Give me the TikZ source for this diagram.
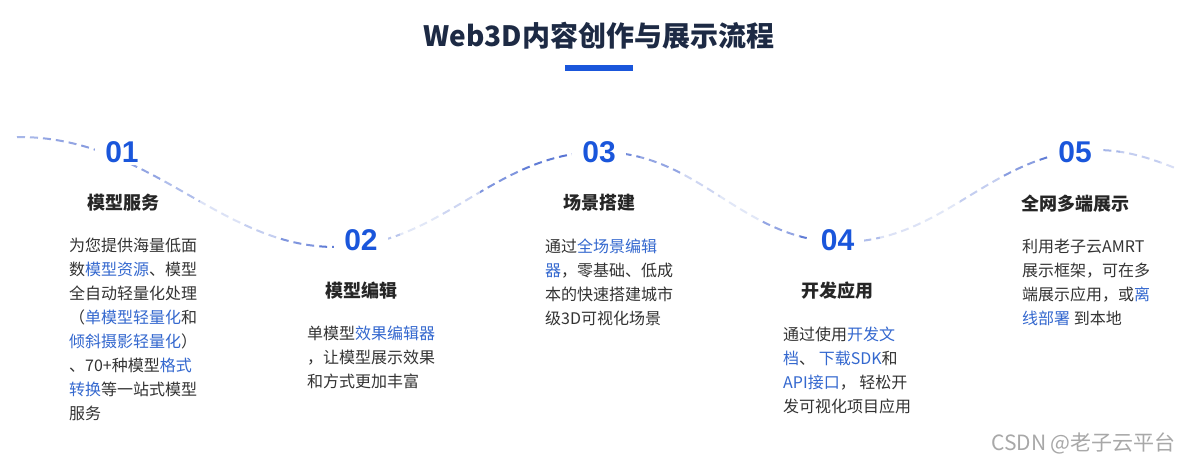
\documentclass[tikz,border=0pt]{standalone}
\usepackage{fontspec}
\setmainfont{Noto Sans CJK SC}
\newfontfamily\numfont{Liberation Sans}
\definecolor{titlecol}{HTML}{1D2A44}
\definecolor{numblue}{HTML}{1A56DB}
\definecolor{linkblue}{HTML}{3468CF}
\definecolor{bodycol}{HTML}{333333}
\definecolor{headcol}{HTML}{262626}
\definecolor{dashblue}{HTML}{3A5CCC}
\definecolor{wmgray}{HTML}{A8A8A8}
\newcommand\lk[1]{\textcolor{linkblue}{#1}}
\begin{document}
\begin{tikzpicture}[x=1pt,y=-1pt,
  wave/.style={line width=2pt, dash pattern=on 8pt off 5pt},
  num/.style={font=\numfont\bfseries\fontsize{30}{30}\selectfont, text=numblue, fill=white, inner xsep=10pt, inner ysep=2pt},
  head/.style={font=\bfseries\fontsize{18}{20}\selectfont, text=headcol, inner sep=0pt},
  body/.style={font=\fontsize{16}{24}\selectfont, text=bodycol, anchor=base west, inner sep=0pt},
  wmark/.style={font=\fontsize{21}{24}\selectfont, text=wmgray, inner sep=0pt}]
\useasboundingbox (0,0) rectangle (1189,461);
\fill[white] (0,0) rectangle (1189,461);

% title
\node[font=\bfseries\fontsize{28}{30}\selectfont, text=titlecol, inner sep=0pt] (title) at (599,36) {Web3D内容创作与展示流程};
\fill[numblue] (565,65) rectangle (633,71);

% wave
\path[save path=\wavep] (17,137) .. controls (150,136) and (220,247) .. (335,247)
  .. controls (440,247) and (495,152) .. (600,152)
  .. controls (700,152) and (742,242) .. (842,242)
  .. controls (945,242) and (993,150) .. (1097,150)
  .. controls (1125,150) and (1150,158) .. (1175,168);
\foreach \xa/\c in {0/45,40/55,80/60,120/55,160/40,200/18,240/30,280/65,320/80,360/35,400/15,440/25,480/65,520/80,560/85,600/70,640/55,680/25,720/15,760/55,800/80,840/40,880/18,920/15,960/30,1000/60,1040/80,1080/45,1120/30,1160/20}{
  \begin{scope}
    \clip (\xa,0) rectangle ++(40,461);
    \draw[wave, draw=dashblue!\c!white, use path=\wavep];
  \end{scope}
}

% numbers
\node[num] (n1) at (122,152) {01};
\node[num] (n2) at (361,240) {02};
\node[num] (n3) at (599,152.5) {03};
\node[num] (n4) at (837.5,240.5) {04};
\node[num] (n5) at (1075,152.5) {05};

% headings
\node[head] (h1) at (123,203) {模型服务};
\node[head] (h2) at (361,290.5) {模型编辑};
\node[head] (h3) at (599,202.5) {场景搭建};
\node[head] (h4) at (837,290.5) {开发应用};
\node[head] (h5) at (1075,204) {全网多端展示};

% body 1
\node[body] (a1) at (69,251.5) {为您提供海量低面};
\node[body] (a2) at (69,275.5) {数\lk{模型资源}、模型};
\node[body] (a3) at (69,299.5) {全自动轻量化处理};
\node[body] (a4) at (69,323.5) {（\lk{单模型轻量化}和};
\node[body] (a5) at (69,347.5) {\lk{倾斜摄影轻量化}）};
\node[body] (a6) at (69,371.5) {、70+种模型\lk{格式}};
\node[body] (a7) at (69,395.5) {\lk{转换}等一站式模型};
\node[body] (a8) at (69,419.5) {服务};

% body 2
\node[body] (b1) at (307,339.5) {单模型\lk{效果编辑器}};
\node[body] (b2) at (307,363.5) {，让模型展示效果};
\node[body] (b3) at (307,387.5) {和方式更加丰富};

% body 3
\node[body] (c1) at (545,252) {通过\lk{全场景编辑}};
\node[body] (c2) at (545,276) {\lk{器}，零基础、低成};
\node[body] (c3) at (545,300) {本的快速搭建城市};
\node[body] (c4) at (545,324) {级3D可视化场景};

% body 4
\node[body] (d1) at (783,340) {通过使用\lk{开发文}};
\node[body] (d2) at (783,364) {\lk{档}、 \lk{下载SDK}和};
\node[body] (d3) at (783,388) {\lk{API接口}， 轻松开};
\node[body] (d4) at (783,412) {发可视化项目应用};

% body 5
\node[body] (e1) at (1022,252) {利用老子云AMRT};
\node[body] (e2) at (1022,276) {展示框架，可在多};
\node[body] (e3) at (1022,300) {端展示应用，或\lk{离}};
\node[body] (e4) at (1022,324) {\lk{线部署} 到本地};

% watermark
\node[wmark, anchor=east] (wm) at (1176,443) {CSDN @老子云平台};
\end{tikzpicture}
\end{document}
